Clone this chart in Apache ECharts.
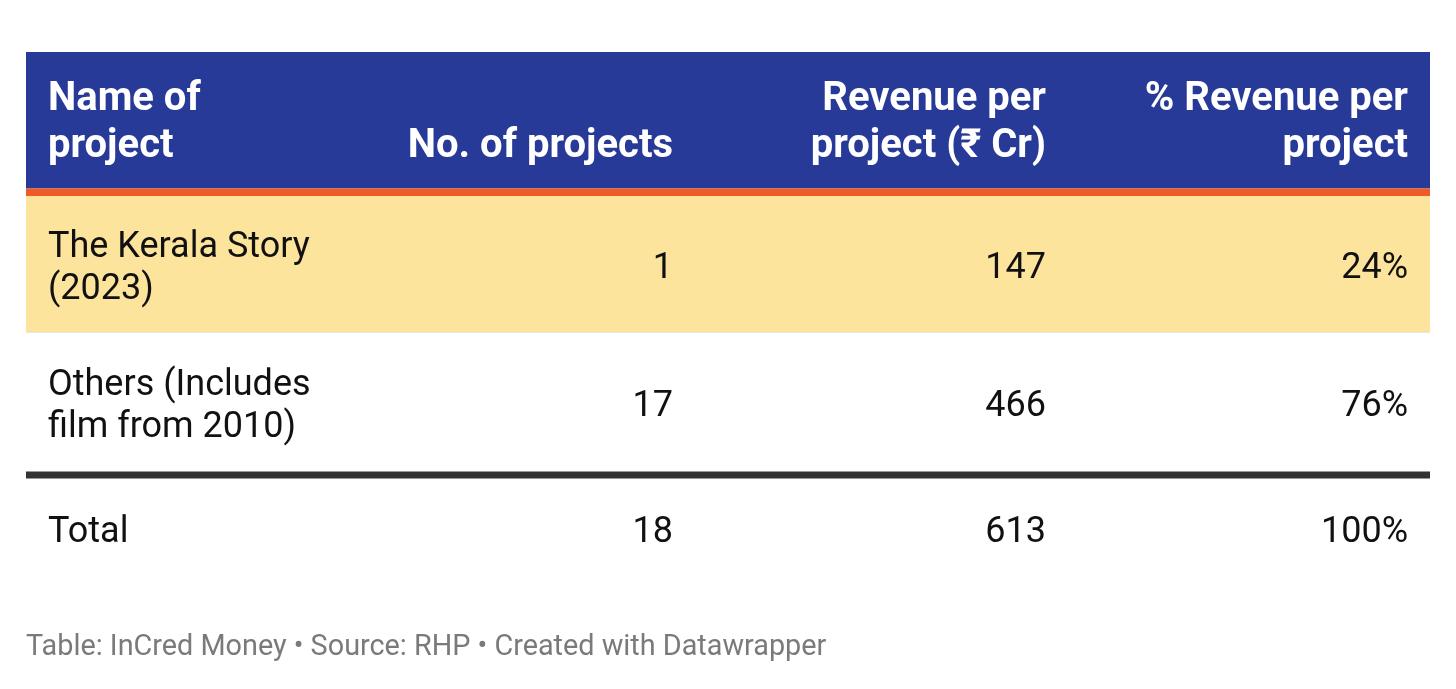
<!DOCTYPE html>
<html>
<head>
<meta charset="utf-8">
<script src="https://cdn.jsdelivr.net/npm/echarts@6/dist/echarts.min.js"></script>
<style>
  html, body { margin: 0; padding: 0; background: #fff; }
  #main { width: 1456px; height: 689px; }
</style>
</head>
<body>
<div id="main"></div>
<script>
// table data
var headers = ['Name of\nproject', 'No. of projects', 'Revenue per\nproject (₹ Cr)', '% Revenue per\nproject'];
var projectNames = ['The Kerala Story\n(2023)', 'Others (Includes\nfilm from 2010)'];
var projectCounts = [1, 17];
var revenues = [147, 466];
var revenueShares = ['24%', '76%'];
var totalRow = ['Total', 18, 613, '100%'];
var footer = 'Table: InCred Money • Source: RHP • Created with Datawrapper';

var chart = echarts.init(document.getElementById('main'));

var left = 26, right = 1430;
var colRight = [null, 673, 1046, 1408];
var textLeft = 48;
var headTop = 52, headBottom = 188.5;
var rowTops = [196, 333];
var rowH = [137, 139];
var fontFamily = 'Roboto, "Noto Sans", sans-serif';

var elements = [];

// header band
elements.push({ type: 'rect', shape: { x: left, y: headTop, width: right - left, height: headBottom - headTop }, style: { fill: '#283A97' } });
elements.push({ type: 'rect', shape: { x: left, y: headBottom, width: right - left, height: 7.5 }, style: { fill: '#F05A28' } });

// header cells are bottom aligned
headers.forEach(function (h, i) {
  elements.push({
    type: 'text',
    style: {
      text: h, x: i === 0 ? textLeft : colRight[i], y: 170,
      align: i === 0 ? 'left' : 'right', verticalAlign: 'bottom',
      font: 'bold 40px ' + fontFamily, fill: '#fff', lineHeight: 47
    }
  });
});

// body rows
projectNames.forEach(function (name, r) {
  var top = rowTops[r];
  elements.push({ type: 'rect', shape: { x: left, y: top, width: right - left, height: rowH[r] }, style: { fill: r === 0 ? '#FDE49C' : '#fff' } });
  if (r === 0) {
    elements.push({ type: 'rect', shape: { x: left, y: top + rowH[r] - 1, width: right - left, height: 1.5 }, style: { fill: '#E6E6E6' } });
  }
  var mid = top + rowH[r] / 2 + 4;
  var cells = [name, projectCounts[r], revenues[r], revenueShares[r]];
  cells.forEach(function (c, i) {
    elements.push({
      type: 'text',
      style: {
        text: String(c), x: i === 0 ? textLeft : colRight[i], y: mid,
        align: i === 0 ? 'left' : 'right', verticalAlign: 'middle',
        font: '36px ' + fontFamily, fill: '#111', lineHeight: 42
      }
    });
  });
});

// thick separator before total
elements.push({ type: 'rect', shape: { x: left, y: 471.5, width: right - left, height: 7 }, style: { fill: '#333' } });

totalRow.forEach(function (c, i) {
  elements.push({
    type: 'text',
    style: {
      text: String(c), x: i === 0 ? textLeft : colRight[i], y: 533,
      align: i === 0 ? 'left' : 'right', verticalAlign: 'middle',
      font: '36px ' + fontFamily, fill: '#111'
    }
  });
});

elements.push({
  type: 'text',
  style: { text: footer, x: left, y: 648, align: 'left', verticalAlign: 'middle', font: '28.8px ' + fontFamily, fill: '#7a7a7a' }
});

chart.setOption({
  backgroundColor: '#fff',
  animation: false,
  graphic: { elements: elements }
});
</script>
</body>
</html>
